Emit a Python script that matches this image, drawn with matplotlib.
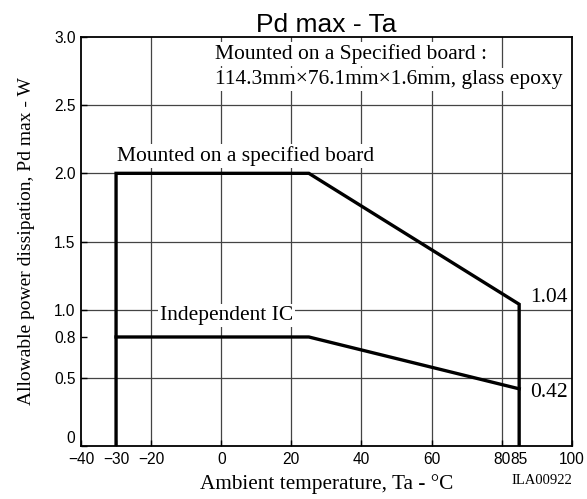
import matplotlib
matplotlib.use("Agg")
import matplotlib.pyplot as plt

# derating curves (Ta in degC, Pd in W)
board_ta = [-30, -30, 25, 85, 85]
board_pd = [0, 2.0, 2.0, 1.04, 0]
ic_ta = [-30, 25, 85]
ic_pd = [0.8, 0.8, 0.42]

x_ticks = [-40, -30, -20, 0, 20, 40, 60, 80, 85, 100]
x_labels = ["\u221240", "\u221230", "\u221220", "0", "20", "40", "60", "80", "85", "100"]
y_ticks = [0, 0.5, 0.8, 1.0, 1.5, 2.0, 2.5, 3.0]
y_labels = ["0", "0.5", "0.8", "1.0", "1.5", "2.0", "2.5", "3.0"]
grid_x = [-20, 0, 20, 40, 60, 80]
grid_y = [0.5, 1.0, 1.5, 2.0, 2.5]

serif = "Liberation Serif"
sans = "Liberation Sans"
box = dict(facecolor="white", edgecolor="none", pad=1.5)

fig = plt.figure(figsize=(5.87, 4.99), dpi=100)
ax = fig.add_axes([0.138, 0.106, 0.836, 0.820])

for gx in grid_x:
    ax.axvline(gx, color="#444444", lw=0.9, zorder=1)
for gy in grid_y:
    ax.axhline(gy, color="#444444", lw=0.9, zorder=1)

ax.plot(board_ta, board_pd, color="black", lw=2.4, solid_joinstyle="miter", zorder=3)
ax.plot(ic_ta, ic_pd, color="black", lw=2.4, solid_joinstyle="miter", zorder=3)

ax.set_xlim(-40, 100)
ax.set_ylim(0, 3.0)
ax.set_xticks(x_ticks)
ax.set_xticklabels(x_labels, family=sans)
ax.set_yticks(y_ticks)
ax.set_yticklabels(y_labels, family=sans)
ax.tick_params(direction="in", length=4, width=1, labelsize=11.2, pad=4)
# the "0" label sits just above the corner, as in the datasheet
ax.get_yticklabels()[0].set_va("bottom")
for s in ax.spines.values():
    s.set_linewidth(1.3)

ax.set_title("Pd max - Ta", family=sans, fontsize=19, pad=2)
ax.set_xlabel("Ambient temperature, Ta - \u00b0C", family=serif, fontsize=15.3, labelpad=5)
ax.set_ylabel("Allowable power dissipation, Pd max - W", family=serif, fontsize=14, labelpad=14)

ax.text(-1.8, 2.875, "Mounted on a Specified board :", family=serif, fontsize=15.5,
        va="center", bbox=box, zorder=4)
ax.text(-1.8, 2.69, "114.3mm\u00d776.1mm\u00d71.6mm, glass epoxy", family=serif, fontsize=15.5,
        va="center", bbox=box, zorder=4)
ax.text(-29.7, 2.125, "Mounted on a specified board", family=serif, fontsize=15.5,
        va="center", bbox=box, zorder=4)
ax.text(-17.5, 0.96, "Independent IC", family=serif, fontsize=15.5,
        va="center", bbox=box, zorder=4)
ax.text(88, 1.09, "1.04", family=serif, fontsize=15.5, va="center", zorder=4)
ax.text(88, 0.39, "0.42", family=serif, fontsize=15.5, va="center", zorder=4)

fig.text(0.974, 0.025, "ILA00922", family=serif, fontsize=10.5, ha="right", va="bottom")

fig.savefig("out.png", dpi=100)
